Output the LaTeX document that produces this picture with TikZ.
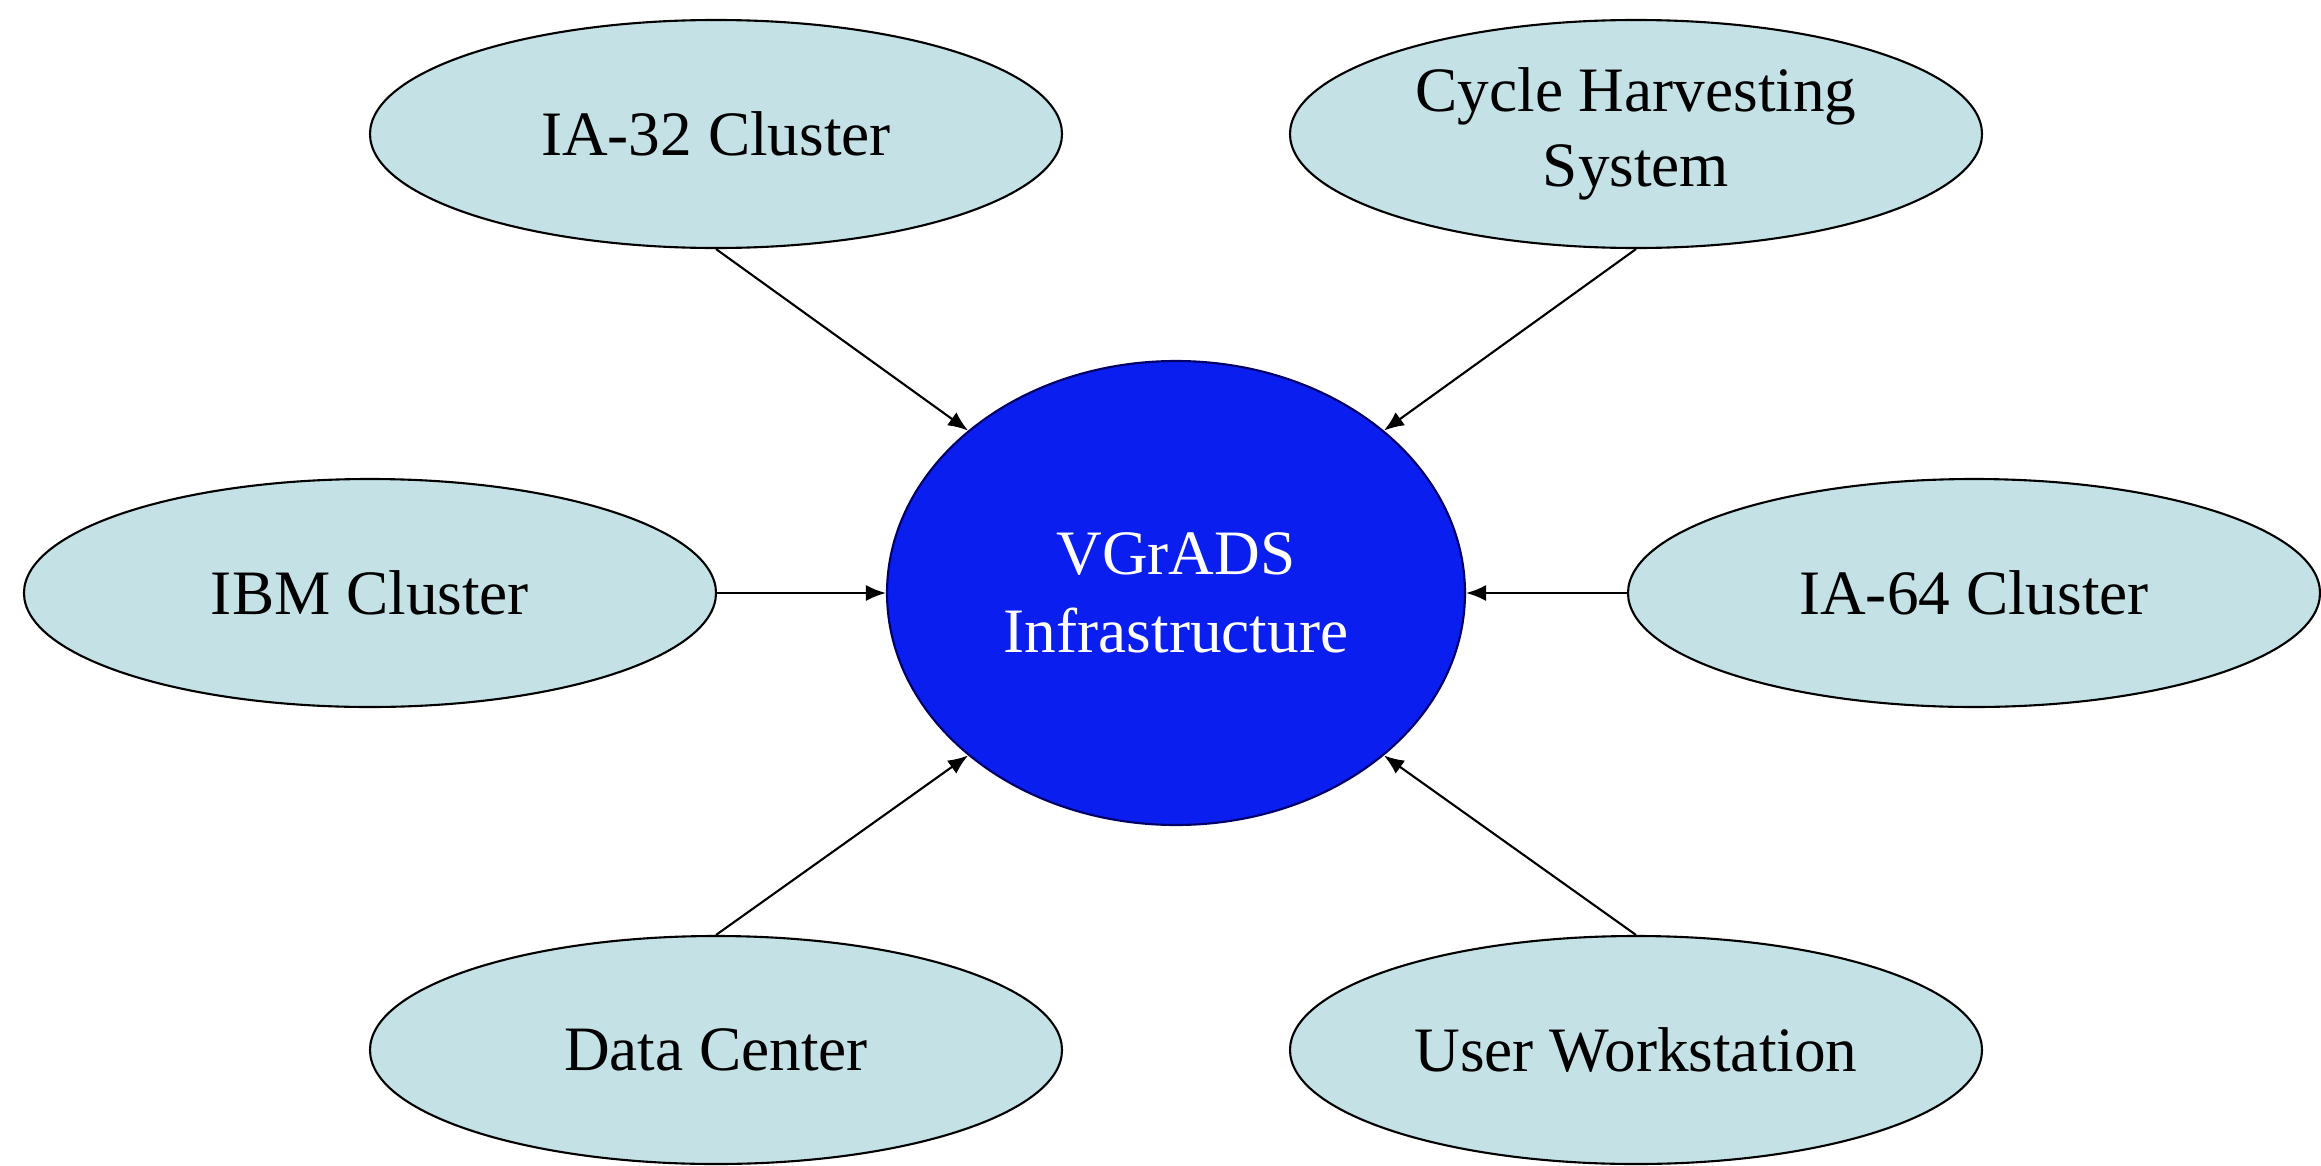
\documentclass[tikz,border=0pt]{standalone}
\usepackage{fontspec}
\setmainfont{Liberation Serif}
\usetikzlibrary{shapes.geometric,arrows.meta}
\definecolor{sitefill}{RGB}{196,225,230}
\definecolor{corefill}{RGB}{10,30,240}
\begin{document}
\begin{tikzpicture}[
    site/.style={ellipse,draw=black,line width=0.6pt,fill=sitefill,
      minimum width=6.92cm,minimum height=2.28cm,inner sep=0pt,
      align=center,font=\fontsize{18}{21.5}\selectfont},
    core/.style={ellipse,draw=black!60!blue,line width=0.6pt,fill=corefill,
      text=white,minimum width=5.78cm,minimum height=4.64cm,inner sep=0pt,
      align=center,font=\fontsize{18}{22}\selectfont},
    link/.style={-{Latex[length=2mm,width=1.6mm]},line width=0.6pt}]
  \useasboundingbox (0,0) rectangle (23.21,11.65);
  % the infrastructure in the middle
  \node[core] (vgrads) at (11.76,5.72) {VGrADS\\Infrastructure};
  % resources around it
  \node[site] (ia32) at (7.16,10.31) {IA-32 Cluster};
  \node[site] (cycle) at (16.36,10.31) {Cycle Harvesting\\System};
  \node[site] (ibm) at (3.70,5.72) {IBM Cluster};
  \node[site] (ia64) at (19.74,5.72) {IA-64 Cluster};
  \node[site] (datacenter) at (7.16,1.15) {Data Center};
  \node[site] (workstation) at (16.36,1.15) {User Workstation};
  \foreach \from/\to in {ia32.south/142,cycle.south/38,ibm.east/180,
                         ia64.west/0,datacenter.north/218,workstation.north/322}
    \draw[link] (\from) -- (vgrads.\to);
\end{tikzpicture}
\end{document}
